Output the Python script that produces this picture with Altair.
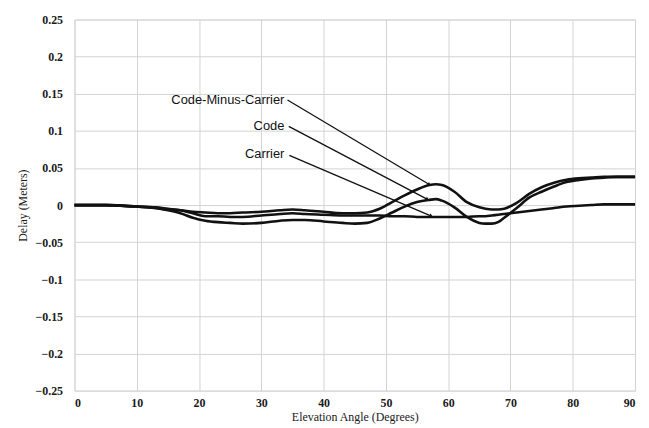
import altair as alt
import pandas as pd

angles = [0, 5, 10, 13, 15, 17, 19, 21, 23, 25, 27, 30, 33, 35, 37, 40, 43, 45, 47, 49,
          51, 53, 55, 57, 58, 59, 61, 63, 65, 66, 67, 68, 69, 71, 73, 75, 77, 79, 81, 83,
          85, 87, 90]
cmc = [0, 0, -0.002, -0.004, -0.006, -0.007, -0.009, -0.010, -0.011, -0.011, -0.010,
       -0.009, -0.007, -0.006, -0.007, -0.009, -0.011, -0.011, -0.010, -0.005, 0.004,
       0.013, 0.021, 0.027, 0.028, 0.027, 0.018, 0.004, -0.003, -0.005, -0.006, -0.006,
       -0.005, 0.003, 0.015, 0.024, 0.030, 0.034, 0.036, 0.037, 0.038, 0.038, 0.038]
code = [0, 0, -0.002, -0.004, -0.007, -0.011, -0.017, -0.021, -0.023, -0.024, -0.025,
        -0.024, -0.021, -0.020, -0.020, -0.022, -0.024, -0.025, -0.024, -0.018, -0.010,
        -0.002, 0.004, 0.007, 0.008, 0.006, -0.003, -0.016, -0.024, -0.025, -0.025,
        -0.023, -0.017, -0.004, 0.010, 0.018, 0.025, 0.031, 0.034, 0.036, 0.037, 0.038,
        0.038]
carrier = [0, 0, -0.002, -0.003, -0.005, -0.007, -0.011, -0.015, -0.015, -0.016, -0.016,
           -0.014, -0.012, -0.011, -0.012, -0.013, -0.014, -0.014, -0.014, -0.014, -0.015,
           -0.015, -0.016, -0.016, -0.016, -0.016, -0.016, -0.016, -0.015, -0.015, -0.014,
           -0.013, -0.012, -0.010, -0.008, -0.006, -0.004, -0.002, -0.001, 0.000, 0.001,
           0.001, 0.001]

x_ticks = [0, 10, 20, 30, 40, 50, 60, 70, 80, 90]
y_ticks = [-0.25, -0.2, -0.15, -0.1, -0.05, 0, 0.05, 0.1, 0.15, 0.2, 0.25]

labels = ["Code-Minus-Carrier", "Code", "Carrier"]
label_x = [33.7, 33.7, 33.7]
label_y = [0.1416, 0.106, 0.069]
arrow_x0 = [34.2, 34.4, 34.5]
arrow_y0 = [0.1416, 0.106, 0.067]
arrow_x1 = [56.9, 56.6, 57.2]
arrow_y1 = [0.028, 0.008, -0.0146]
arrow_angle = [121, 118, 114]

rows = []
for name, vals in [("Code-Minus-Carrier", cmc), ("Code", code), ("Carrier", carrier)]:
    for a, v in zip(angles, vals):
        rows.append({"angle": a, "delay": v, "series": name})
df = pd.DataFrame(rows)

ann = pd.DataFrame({"label": labels, "lx": label_x, "ly": label_y,
                    "x0": arrow_x0, "y0": arrow_y0, "x1": arrow_x1, "y1": arrow_y1,
                    "ang": arrow_angle})

xs = alt.Scale(domain=[0, 90], nice=False, zero=False)
ys = alt.Scale(domain=[-0.25, 0.25], nice=False)

serif = "Liberation Serif"

x_axis = alt.Axis(values=x_ticks, tickCount=len(x_ticks), title="Elevation Angle (Degrees)",
                  grid=True, gridColor="#d2d2d2", gridWidth=1, ticks=False,
                  domain=False, labelFont=serif, labelFontSize=12, labelFontWeight="bold",
                  labelColor="#1a1a1a", labelPadding=7, labelOverlap=False,
                  titleFont=serif, titleFontSize=12, titleFontWeight="normal",
                  titleColor="#1a1a1a", titlePadding=3)
y_axis = alt.Axis(values=y_ticks, tickCount=len(y_ticks),
                  format="~g", title="Delay (Meters)", grid=True, gridColor="#d2d2d2",
                  gridWidth=1, ticks=False, domain=False, labelFont=serif,
                  labelFontSize=12, labelFontWeight="bold", labelColor="#1a1a1a",
                  labelPadding=12, labelOverlap=False,
                  titleFont=serif, titleFontSize=12, titleFontWeight="normal",
                  titleColor="#1a1a1a", titlePadding=6)

lines = alt.Chart(df).mark_line(color="#111", interpolate="monotone").encode(
    x=alt.X("angle:Q", scale=xs, axis=x_axis),
    y=alt.Y("delay:Q", scale=ys, axis=y_axis),
    detail="series:N",
    strokeWidth=alt.StrokeWidth("series:N", scale=alt.Scale(
        domain=["Code-Minus-Carrier", "Code", "Carrier"], range=[2.6, 2.6, 1.8]),
        legend=None),
)

arrows = alt.Chart(ann).mark_rule(color="#111", strokeWidth=1.3).encode(
    x=alt.X("x0:Q", scale=xs), y=alt.Y("y0:Q", scale=ys),
    x2="x1:Q", y2="y1:Q")

heads = alt.Chart(ann).mark_point(shape="triangle", filled=True, color="#111",
                                  size=18, opacity=1).encode(
    x=alt.X("x1:Q", scale=xs), y=alt.Y("y1:Q", scale=ys),
    angle=alt.Angle("ang:Q", scale=None))

texts = alt.Chart(ann).mark_text(align="right", baseline="middle", font="Liberation Sans",
                                 fontSize=13, color="#111").encode(
    x=alt.X("lx:Q", scale=xs), y=alt.Y("ly:Q", scale=ys), text="label:N")

chart = alt.layer(lines, arrows, heads, texts).properties(
    width=565, height=374,
    autosize=alt.AutoSizeParams(type="none"),
    padding={"left": 67, "top": 10, "right": 6, "bottom": 32},
).configure_view(stroke="#111", strokeWidth=1.5).configure(background="white")

chart.save("out.html", embed_options={"renderer": "svg", "actions": False})
